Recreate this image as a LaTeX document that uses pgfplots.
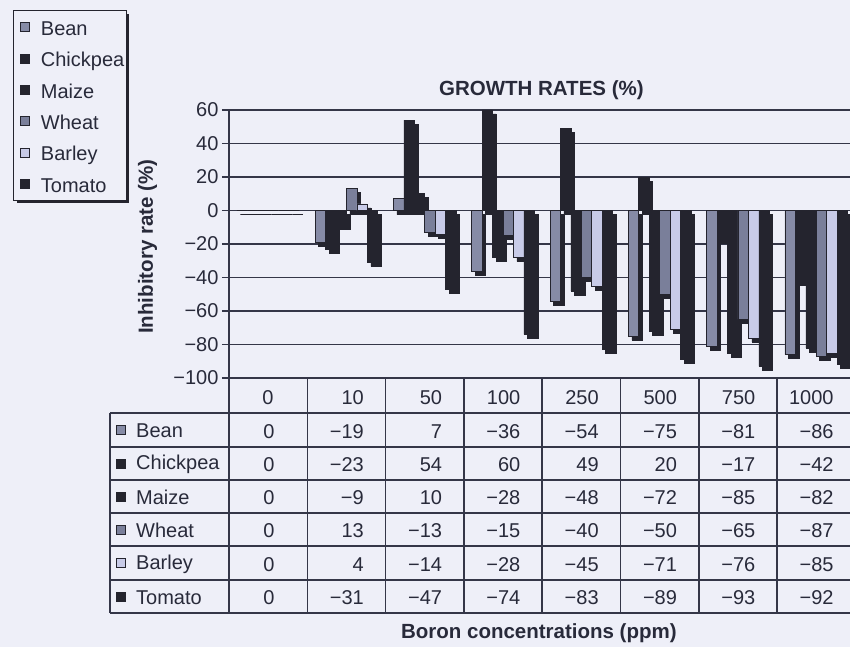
\documentclass[border=0pt]{standalone}
\usepackage{pgfplots}
\pgfplotsset{compat=1.18}
\usepackage{pgfplotstable}
\usepackage{fontspec}
\setmainfont{Liberation Sans}
\usetikzlibrary{shadows}

\definecolor{bgc}{RGB}{238,239,248}
\definecolor{darkc}{RGB}{36,36,46}
\definecolor{beanc}{RGB}{134,139,166}
\definecolor{wheatc}{RGB}{122,127,154}
\definecolor{barleyc}{RGB}{200,203,232}
\definecolor{gridc}{RGB}{52,54,72}
\definecolor{textc}{RGB}{40,42,58}

\newcommand\f{\fontsize{20}{24}\selectfont}
\newcommand\fb{\fontsize{20.5}{24}\selectfont\bfseries}
% print negative integers with a real minus sign
\newcommand\fixminus[1]{\ifnum#1<0 −\number\numexpr0-(#1)\relax\else#1\fi}

\makeatletter
\tikzset{no preactions/.code={\let\tikz@preactions\pgfutil@empty}}
\makeatother

% growth rates (%) per boron concentration, index 0..7 = 0,10,50,100,250,500,750,1000 ppm
\pgfplotstableread{
x bean chickpea maize wheat barley tomato
0    0     0     0     0     0     0
1  -19   -23    -9    13     4   -31
2    7    54    10   -13   -14   -47
3  -36    60   -28   -15   -28   -74
4  -54    49   -48   -40   -45   -83
5  -75    20   -72   -50   -71   -89
6  -81   -17   -85   -65   -76   -93
7  -86   -42   -82   -87   -85   -92
}\growth

\tikzset{barshadow/.style={drop shadow={shadow xshift=3.5pt,shadow yshift=-4pt,opacity=1,fill=darkc}}}
\pgfplotsset{sq legend/.style={legend image code/.code={%
  \path[draw=none,fill=none,no preactions] (-6pt,-4.5pt) rectangle (9pt,4.5pt);
  \draw[##1,no preactions,line width=0.6pt] (0pt,-4.5pt) rectangle (9pt,4.5pt);}}}

\begin{document}
\begin{tikzpicture}
\fill[bgc] (-229pt,-269pt) rectangle (621pt,378pt);
\useasboundingbox (-229pt,-269pt) rectangle (621pt,378pt);
\begin{axis}[
  at={(0pt,0pt)}, anchor=south west,
  scale only axis, width=621pt, height=268pt,
  xmin=-0.5, xmax=7.431, ymin=-100, ymax=60,
  ybar=0pt, bar width=0.1333,
  axis x line*=bottom, axis y line*=left,
  axis line style={gridc, line width=1.5pt},
  ytick={-100,-80,...,60},
  yticklabels={−100,−80,−60,−40,−20,0,20,40,60},
  xtick={0,...,7},
  xticklabels={{0\hspace*{12pt}},10,50,100,250,500,750,1000},
  ymajorgrids, grid style={gridc, line width=1.5pt},
  tick align=outside, major tick length=7pt,
  ytick style={gridc, line width=1.5pt}, xtick style={draw=none},
  tick label style={font=\f, text=textc},
  xticklabel style={anchor=base east, inner sep=0pt, xshift=17.5pt, yshift=-19.4pt},
  title={GROWTH RATES (\%)},
  every axis title/.style={at={(axis description cs:0.503,1.075)}, anchor=center, font=\fb, text=textc},
  ylabel={Inhibitory rate (\%)},
  every axis y label/.style={at={(axis description cs:-0.131,0.49)}, rotate=90, anchor=center, font=\fb, text=textc},
  xlabel={Boron concentrations (ppm)},
  every axis x label/.style={at={(axis description cs:0.499,-0.953)}, anchor=center, font=\fb, text=textc},
  legend cell align=left,
  legend style={at={(axis description cs:-0.3478,1.3731)}, anchor=north west,
    draw=darkc, line width=1.2pt, fill=bgc, font=\f, text=textc,
    inner xsep=1pt, inner ysep=1pt, row sep=0pt, column sep=10pt,
    nodes={inner xsep=1pt, inner ysep=7.4pt, text height=16.5pt, text depth=0pt},
    drop shadow={shadow xshift=3pt,shadow yshift=-3pt,opacity=1,fill=darkc}},
]
\addplot[fill=beanc, draw=darkc, line width=0.6pt, barshadow, sq legend] table[x=x,y=bean]{\growth};
\addlegendentry{Bean}
\addplot[fill=darkc, draw=darkc, line width=0.6pt, barshadow, sq legend] table[x=x,y=chickpea]{\growth};
\addlegendentry{Chickpea}
\addplot[fill=darkc, draw=darkc, line width=0.6pt, barshadow, sq legend] table[x=x,y=maize]{\growth};
\addlegendentry{Maize}
\addplot[fill=wheatc, draw=darkc, line width=0.6pt, barshadow, sq legend] table[x=x,y=wheat]{\growth};
\addlegendentry{Wheat}
\addplot[fill=barleyc, draw=darkc, line width=0.6pt, barshadow, sq legend] table[x=x,y=barley]{\growth};
\addlegendentry{Barley}
\addplot[fill=darkc, draw=darkc, line width=0.6pt, barshadow, sq legend] table[x=x,y=tomato]{\growth};
\addlegendentry{Tomato}
\end{axis}

% data table under the chart
\begin{scope}[x=1pt, y=1pt]
  \foreach \k in {0,...,8}
    \draw[gridc, line width=1.5pt] ({78.3*\k},0) -- ({78.3*\k},-235);
  \draw[gridc, line width=1.5pt] (-119,-35) -- (-119,-235);
  \foreach \y in {-35,-69,-102,-135,-168,-202,-235}
    \draw[gridc, line width=1.5pt] (-119,\y) -- (630,\y);
  \foreach \name/\col/\y in {Bean/beanc/-52, Chickpea/darkc/-85.5, Maize/darkc/-118.5,
      Wheat/wheatc/-151.5, Barley/barleyc/-185, Tomato/darkc/-218.5} {
    \draw[fill=\col, draw=darkc, line width=0.6pt] (-113,\y-4.5) rectangle (-104,\y+4.5);
    \node[anchor=west, inner sep=0pt, text=textc] at (-93,\y-1) {\f\name};
  }
  \foreach \key/\y in {bean/-53.5, chickpea/-87, maize/-120, wheat/-153, barley/-186.5, tomato/-220} {
    \foreach \i in {0,...,7} {
      \pgfplotstablegetelem{\i}{\key}\of\growth
      \ifnum\i=0
        \node[anchor=center, inner sep=0pt, text=textc] at (40,\y) {\f\pgfplotsretval};
      \else
        \node[anchor=east, inner sep=0pt, text=textc] at ({78.3*(\i+0.5)+17.5},\y) {\f\fixminus{\pgfplotsretval}};
      \fi
    }
  }
\end{scope}
\end{tikzpicture}
\end{document}
